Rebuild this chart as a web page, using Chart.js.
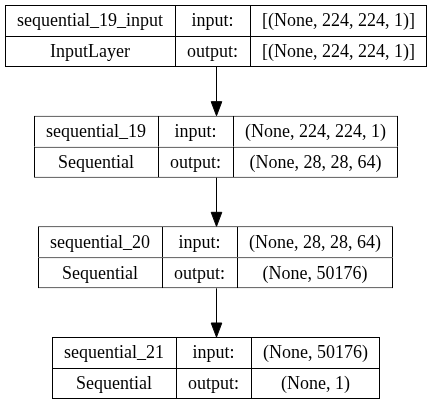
<!DOCTYPE html>
<html>
<head>
<meta charset="utf-8">
<script src="https://cdn.jsdelivr.net/npm/chart.js@4/dist/chart.umd.min.js"></script>
<style>
  html, body { margin: 0; padding: 0; background: #fff; }
  #plot-wrap { width: 431px; height: 405px; position: relative; }
</style>
</head>
<body>
<div id="plot-wrap"><canvas id="model-plot"></canvas></div>
<script>
// layer table contents (keras plot_model style)
const layerNames   = ['sequential_19_input', 'sequential_19', 'sequential_20', 'sequential_21'];
const layerClasses = ['InputLayer', 'Sequential', 'Sequential', 'Sequential'];
const inputShapes  = ['[(None, 224, 224, 1)]', '(None, 224, 224, 1)', '(None, 28, 28, 64)', '(None, 50176)'];
const outputShapes = ['[(None, 224, 224, 1)]', '(None, 28, 28, 64)', '(None, 50176)', '(None, 1)'];
const portLabels   = ['input:', 'output:'];

const FONT = '18px "Liberation Serif", "Times New Roman", serif';
const CELL_PAD = 24;      // horizontal padding inside a cell
const ROW_H = 31;         // px per table row
const LAYER_STEP = 110.67; // px between layers
const TOP_OFFSET = 36;    // px from top to first row divider
const W = 431, H = 405;

const measureCtx = document.createElement('canvas').getContext('2d');
measureCtx.font = FONT;
const tw = s => measureCtx.measureText(s).width;

// column spans per layer, each box centred on x = 0
const spans = layerNames.map((name, i) => {
  const w1 = Math.round(Math.max(tw(name), tw(layerClasses[i])) + CELL_PAD);
  const w2 = Math.round(Math.max(...portLabels.map(tw)) + CELL_PAD);
  const w3 = Math.round(Math.max(tw(inputShapes[i]), tw(outputShapes[i])) + CELL_PAD);
  const left = -Math.round((w1 + w2 + w3) / 2);
  return [[left, left + w1], [left + w1, left + w1 + w2], [left + w1 + w2, left + w1 + w2 + w3]];
});

const rowShift = (ROW_H / 2) / LAYER_STEP;
const cellTexts = [
  layerNames.flatMap((n, i) => [n, layerClasses[i]]),
  layerNames.flatMap(() => portLabels),
  layerNames.flatMap((n, i) => [inputShapes[i], outputShapes[i]])
];

const datasets = [0, 1, 2].map(c => ({
  data: layerNames.flatMap((_, i) => [
    { y: i - rowShift, x: spans[i][c] },
    { y: i + rowShift, x: spans[i][c] }
  ]),
  texts: cellTexts[c],
  backgroundColor: '#fff',
  borderColor: '#000',
  borderSkipped: false,
  inflateAmount: 0,
  barThickness: ROW_H,
  grouped: false,
  borderWidth: (ctx) => ({
    top: 1,
    left: 1,
    bottom: ctx.dataIndex % 2 ? 1 : 0,
    right: ctx.datasetIndex === 2 ? 1 : 0
  })
}));

// =======================================================
// PLUGINS: cell text + arrows between layers
// =======================================================
const cellText = {
  id: 'cellText',
  afterDatasetsDraw(chart) {
    const { ctx } = chart;
    ctx.save();
    ctx.font = FONT;
    ctx.fillStyle = '#000';
    ctx.textAlign = 'center';
    ctx.textBaseline = 'middle';
    chart.data.datasets.forEach((ds, c) => {
      chart.getDatasetMeta(c).data.forEach((bar, j) => {
        ctx.fillText(ds.texts[j], (bar.x + bar.base) / 2, bar.y + 1);
      });
    });
    ctx.restore();
  }
};

const arrows = {
  id: 'arrows',
  afterDatasetsDraw(chart) {
    const { ctx } = chart;
    const bars = chart.getDatasetMeta(1).data;
    const x = Math.round(chart.scales.x.getPixelForValue(0)) + 0.5;
    const headLen = 14, headHalf = 5.3;
    ctx.save();
    ctx.strokeStyle = '#000';
    ctx.fillStyle = '#000';
    ctx.lineWidth = 1;
    for (let i = 0; i < layerNames.length - 1; i++) {
      const from = bars[i * 2 + 1];
      const to = bars[(i + 1) * 2];
      const y0 = from.y + from.height / 2;
      const y1 = to.y - to.height / 2;
      ctx.beginPath();
      ctx.moveTo(x, y0);
      ctx.lineTo(x, y1 - headLen);
      ctx.stroke();
      ctx.beginPath();
      ctx.moveTo(x - headHalf, y1 - headLen);
      ctx.lineTo(x + headHalf, y1 - headLen);
      ctx.lineTo(x, y1);
      ctx.closePath();
      ctx.fill();
      ctx.stroke();
    }
    ctx.restore();
  }
};

const yMin = -TOP_OFFSET / LAYER_STEP;
new Chart(document.getElementById('model-plot').getContext('2d'), {
  type: 'bar',
  data: { datasets },
  options: {
    indexAxis: 'y',
    responsive: true,
    maintainAspectRatio: false,
    animation: false,
    events: [],
    layout: { padding: 0 },
    scales: {
      x: { type: 'linear', min: -Math.round(W / 2), max: W - Math.round(W / 2), display: false },
      y: { type: 'linear', reverse: true, offset: false, min: yMin, max: yMin + H / LAYER_STEP, display: false }
    },
    plugins: {
      legend: { display: false },
      tooltip: { enabled: false }
    }
  },
  plugins: [cellText, arrows]
});
</script>
</body>
</html>
